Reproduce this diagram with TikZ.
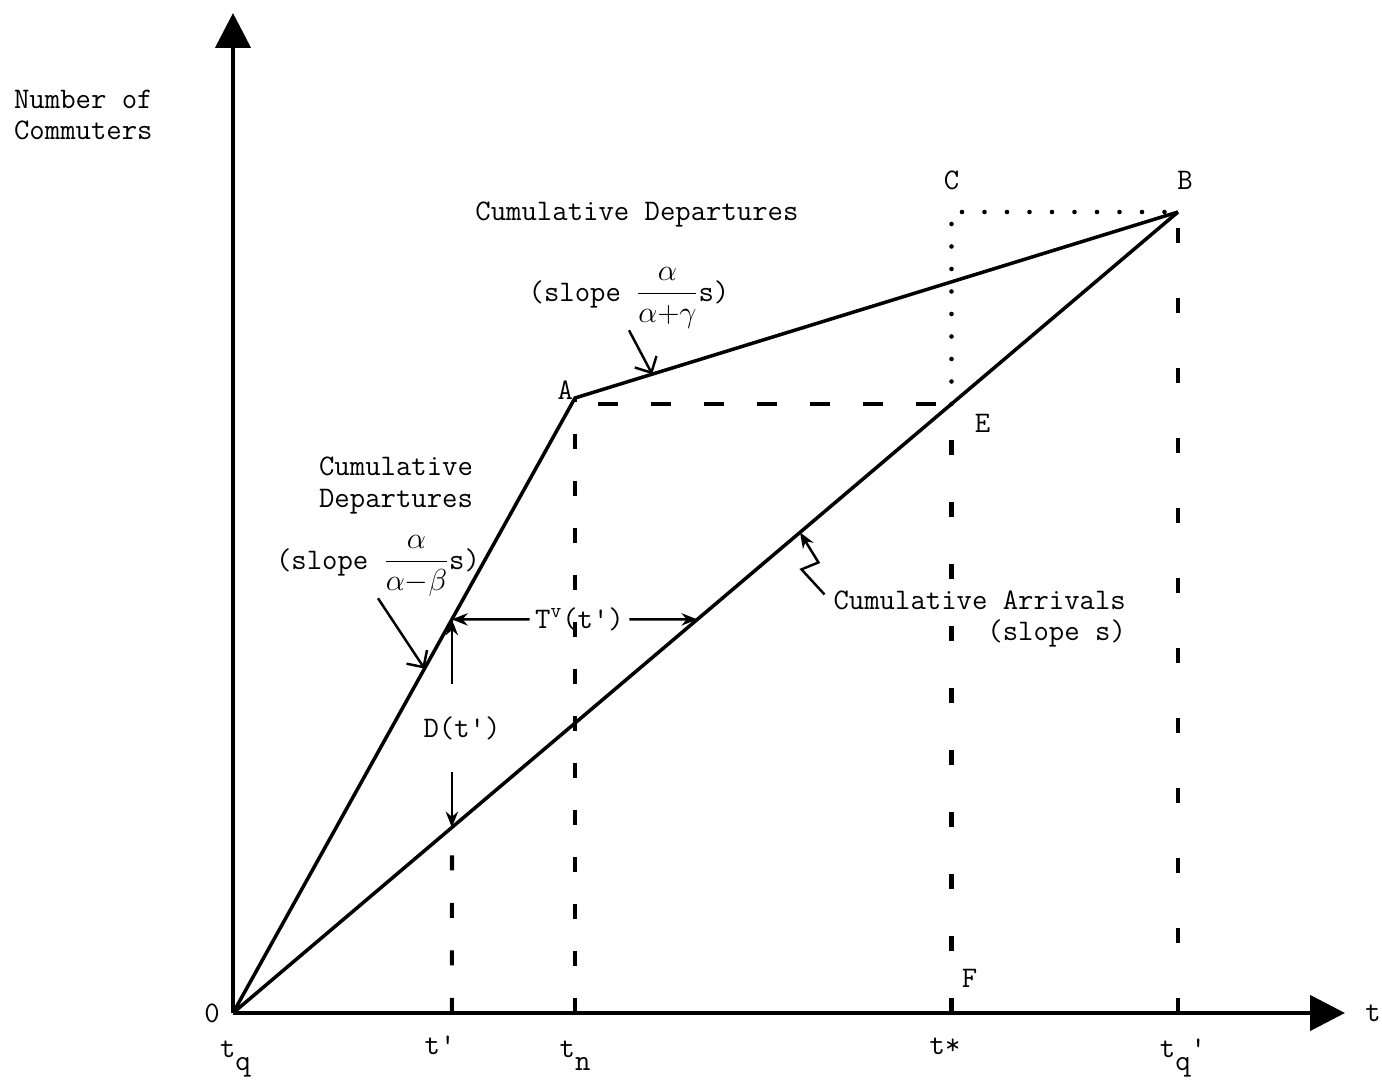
\documentclass[tikz,border=0pt]{standalone}
\usepackage{tikz}
\usetikzlibrary{calc,positioning,arrows.meta}
\tikzset{
	curve/.style={line width=2pt},
	axis/.style={line width=2.6pt,-{Triangle[length=0.7cm,width=0.7cm]}},
	guide/.style={line width=2.4pt,dash pattern=on 0.3cm off #1},
	guide/.default=0.9cm,
	level/.style={line width=2.2pt,dash pattern=on 0.4cm off 0.66cm,dash phase=0.6cm},
	dots/.style={line width=2.6pt,line cap=round,dash pattern=on 0pt off 0.45cm},
	lbl/.style={font=\ttfamily\fontsize{17}{18}\selectfont,inner sep=1pt},
	lead/.style={line width=1.4pt,-{Stealth[length=9pt,width=7pt]}},
	pointer/.style={line width=1.4pt,-{Straight Barb[length=7pt,width=14pt]}}
}
\newcommand{\lowsub}[1]{\raisebox{-7pt}{#1}}
\begin{document}
\begin{tikzpicture}
		%%%%% START %%%%%
		\useasboundingbox (-4.66,-1.5) rectangle (22.98,20.26);
		
		\coordinate (O) at (0,0);
		\coordinate (ytop) at (0,20);
		\coordinate (xend) at (22.24,0);
		\coordinate (A) at (6.84,12.3);
		\coordinate (B) at (18.9,16.02);
		\coordinate (E) at (14.37,12.18);
		\coordinate (C) at (E |- B);
		\coordinate (tn) at (A |- O);
		\coordinate (ts) at (E |- O);
		\coordinate (tqq) at (B |- O);
		\coordinate (P) at ($(O)!0.64!(A)$);
		\coordinate (tp) at (P |- O);
		\coordinate (Pr) at ($(P)+(8,0)$);
		\coordinate (Q) at (intersection of O--B and P--tp);
		\coordinate (Pq) at (intersection of O--B and P--Pr);
		\coordinate (S1) at ($(O)!0.56!(A)$);
		\coordinate (S2) at ($(A)!0.128!(B)$);
		\coordinate (R) at ($(O)!0.6!(B)$);
		
		\draw[axis] (O) -- (ytop);
		\draw[axis] (O) -- (xend);
		
		\draw[guide=0.65cm] (tp) -- (Q);
		\draw[guide=0.64cm] (tn) -- (A);
		\draw[guide=0.94cm] (ts) -- (E);
		\draw[guide=1.1cm] (tqq) -- (B);
		\draw[level] (A |- E) -- (E);
		\draw[dots] (E) -- (C) -- (B);
		
		\draw[curve] (O) -- (A) -- (B);
		\draw[curve] (O) -- (B);
		
		\node[lbl, anchor=west, align=left] (ylab) at (-4.42,17.96) {Number of\\Commuters};
		\node[lbl] (depTop) at (8.08,15.96) {Cumulative Departures};
		\node[lbl, anchor=west, align=left] (depLeft) at (1.68,10.55) {Cumulative\\Departures};
		\node[lbl] (slopeB) at (7.92,14.3) {(slope $\displaystyle\frac{\alpha}{\alpha{+}\gamma}$s)};
		\node[lbl] (slopeA) at (2.9,8.94) {(slope $\displaystyle\frac{\alpha}{\alpha{-}\beta}$s)};
		\node[lbl, anchor=east, align=right] (arr) at (17.9,7.88) {Cumulative Arrivals\\(slope s)};
		\node[lbl, inner sep=3pt] (Tv) at ($(P)!0.52!(Pq)$) {T\textsuperscript{v}(t')};
		\node[lbl, inner ysep=0.65cm] (D) at (4.58,5.7) {D(t')};
		
		\draw[pointer] (slopeB.south) -- (S2);
		\draw[pointer] (slopeA.south) -- (S1);
		\draw[lead] (Tv.west) -- (P);
		\draw[lead] (Tv.east) -- (Pq);
		\draw[lead] (D.north -| P) -- (P);
		\draw[lead] (D.south -| Q) -- (Q);
		\draw[lead] ([xshift=-0.14cm,yshift=-0.12cm]arr.north west) -- ++(-0.46,0.5) -- ++(0.34,0.14) -- (R);
		
		\node[lbl, anchor=south east] (labA) at ($(A)+(0,-0.08)$) {A};
		\node[lbl, anchor=south] (labB) at ($(B)+(0.14,0.4)$) {B};
		\node[lbl, anchor=south] (labC) at ($(C)+(0,0.4)$) {C};
		\node[lbl] (labE) at ($(E)+(0.62,-0.38)$) {E};
		\node[lbl] (labF) at ($(ts)+(0.36,0.7)$) {F};
		\node[lbl] (labO) at (-0.42,0) {0};
		\node[lbl] (labt) at (22.8,0) {t};
		
		\node[lbl, anchor=base] (tq) at (0.05,-0.9) {t\lowsub{q}};
		\node[lbl, anchor=base] (tprime) at (4.14,-0.84) {t'};
		\node[lbl, anchor=base] (tnlab) at ($(tn)+(0,-0.9)$) {t\lowsub{n}};
		\node[lbl, anchor=base] (tstar) at (14.24,-0.84) {t*};
		\node[lbl, anchor=base] (tqprime) at (19.0,-0.9) {t\lowsub{q}'};
		%%%%% END %%%%%
\end{tikzpicture}
\end{document}
